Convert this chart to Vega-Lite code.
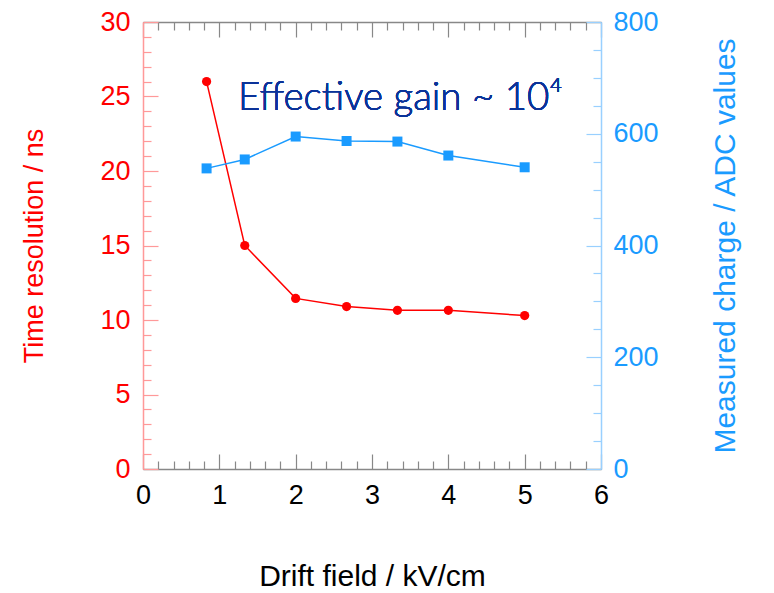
{
  "$schema": "https://vega.github.io/schema/vega-lite/v6.json",
  "width": 458,
  "height": 447,
  "autosize": {"type": "none"},
  "padding": {"left": 143, "top": 22, "right": 173, "bottom": 124},
  "background": "white",
  "config": {"view": {"stroke": null}, "font": "Liberation Sans"},
  "data": {"values": [
    {"x": 0.833, "t": 26.0, "q": 538},
    {"x": 1.333, "t": 15.0, "q": 554},
    {"x": 2.0, "t": 11.45, "q": 595},
    {"x": 2.667, "t": 10.9, "q": 587},
    {"x": 3.333, "t": 10.65, "q": 586},
    {"x": 4.0, "t": 10.65, "q": 561},
    {"x": 5.0, "t": 10.3, "q": 540}
  ]},
  "resolve": {"scale": {"x": "independent", "y": "independent"}, "axis": {"x": "independent", "y": "independent"}},
  "layer": [
    {
      "mark": {"type": "line", "color": "#ff0000", "strokeWidth": 1.5},
      "encoding": {
        "x": {"field": "x", "type": "quantitative", "scale": {"domain": [0, 6], "nice": false},
          "axis": {"orient": "bottom", "values": [0, 1, 2, 3, 4, 5, 6], "tickSize": -15, "tickColor": "#888888", "domainColor": "#888888", "tickWidth": 1.2, "domainWidth": 1.5, "grid": false, "labelFlush": false, "labelOverlap": false, "labelFontSize": 27, "labelColor": "#000000", "labelPadding": 28, "title": "Drift field / kV/cm", "titleFontSize": 30, "titleFontWeight": "normal", "titleColor": "#000000", "titlePadding": 53, "zindex": 0}},
        "y": {"field": "t", "type": "quantitative", "scale": {"domain": [0, 30], "nice": false},
          "axis": {"orient": "left", "values": [0, 5, 10, 15, 20, 25, 30], "tickSize": -15, "tickColor": "#ff9999", "domainColor": "#ff9999", "tickWidth": 1.2, "domainWidth": 1.5, "grid": false, "labelFlush": false, "labelOverlap": false, "labelFontSize": 27, "labelColor": "#ff0000", "labelPadding": 28, "title": "Time resolution / ns", "titleFontSize": 27, "titleFontWeight": "normal", "titleColor": "#ff0000", "titlePadding": 51, "zindex": 1}}
      }
    },
    {
      "mark": {"type": "point", "shape": "circle", "filled": true, "color": "#ff0000", "size": 85, "opacity": 1},
      "encoding": {
        "x": {"field": "x", "type": "quantitative", "scale": {"domain": [0, 6], "nice": false},
          "axis": {"orient": "bottom", "values": [0.2, 0.4, 0.6, 0.8, 1.2, 1.4, 1.6, 1.8, 2.2, 2.4, 2.6, 2.8, 3.2, 3.4, 3.6, 3.8, 4.2, 4.4, 4.6, 4.8, 5.2, 5.4, 5.6, 5.8], "tickSize": -8, "tickColor": "#888888", "tickWidth": 1.2, "domain": false, "labels": false, "grid": false, "title": null, "zindex": 0}},
        "y": {"field": "t", "type": "quantitative", "scale": {"domain": [0, 30], "nice": false},
          "axis": {"orient": "left", "values": [1, 2, 3, 4, 6, 7, 8, 9, 11, 12, 13, 14, 16, 17, 18, 19, 21, 22, 23, 24, 26, 27, 28, 29], "tickSize": -8, "tickColor": "#ff9999", "tickWidth": 1.2, "domain": false, "labels": false, "grid": false, "title": null, "zindex": 1}}
      }
    },
    {
      "mark": {"type": "line", "color": "#1a9bff", "strokeWidth": 1.5},
      "encoding": {
        "x": {"field": "x", "type": "quantitative", "scale": {"domain": [0, 6], "nice": false},
          "axis": {"orient": "top", "values": [0, 1, 2, 3, 4, 5, 6], "tickSize": -15, "tickColor": "#888888", "domainColor": "#888888", "tickWidth": 1.2, "domainWidth": 1.5, "labels": false, "grid": false, "title": null, "zindex": 0}},
        "y": {"field": "q", "type": "quantitative", "scale": {"domain": [0, 800], "nice": false},
          "axis": {"orient": "right", "values": [0, 200, 400, 600, 800], "tickSize": -15, "tickColor": "#99d0ff", "domainColor": "#99d0ff", "tickWidth": 1.2, "domainWidth": 1.5, "grid": false, "labelFlush": false, "labelOverlap": false, "labelFontSize": 27, "labelColor": "#1a9bff", "labelPadding": 27, "title": "Measured charge / ADC values", "titleAngle": 270, "titleBaseline": "bottom", "titleFontSize": 30, "titleFontWeight": "normal", "titleColor": "#1a9bff", "titlePadding": 82, "zindex": 1}}
      }
    },
    {
      "mark": {"type": "point", "shape": "square", "filled": true, "color": "#1a9bff", "size": 100, "opacity": 1},
      "encoding": {
        "x": {"field": "x", "type": "quantitative", "scale": {"domain": [0, 6], "nice": false},
          "axis": {"orient": "top", "values": [0.2, 0.4, 0.6, 0.8, 1.2, 1.4, 1.6, 1.8, 2.2, 2.4, 2.6, 2.8, 3.2, 3.4, 3.6, 3.8, 4.2, 4.4, 4.6, 4.8, 5.2, 5.4, 5.6, 5.8], "tickSize": -8, "tickColor": "#888888", "tickWidth": 1.2, "domain": false, "labels": false, "grid": false, "title": null, "zindex": 0}},
        "y": {"field": "q", "type": "quantitative", "scale": {"domain": [0, 800], "nice": false},
          "axis": {"orient": "right", "values": [50, 100, 150, 250, 300, 350, 450, 500, 550, 650, 700, 750], "tickSize": -8, "tickColor": "#99d0ff", "tickWidth": 1.2, "domain": false, "labels": false, "grid": false, "title": null, "zindex": 1}}
      }
    },
    {
      "mark": {"type": "text", "text": "Effective gain ~ 10⁴", "font": "Lato", "fontWeight": 300, "fontSize": 38.5, "color": "#0b3399", "align": "left", "baseline": "alphabetic"},
      "encoding": {
        "x": {"datum": 1.245, "type": "quantitative", "scale": {"domain": [0, 6], "nice": false}, "axis": null},
        "y": {"datum": 24.1, "type": "quantitative", "scale": {"domain": [0, 30], "nice": false}, "axis": null}
      }
    }
  ]
}
